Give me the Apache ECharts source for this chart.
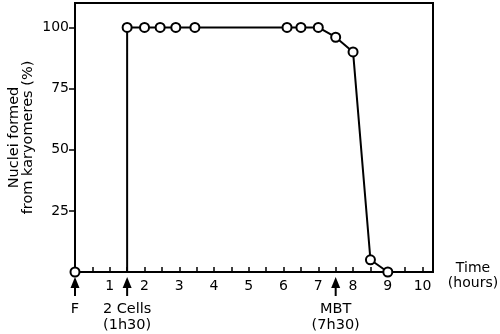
<!DOCTYPE html>
<html>
<head>
<meta charset="utf-8">
<script src="https://cdn.jsdelivr.net/npm/echarts@6/dist/echarts.min.js"></script>
<style>
  html, body { margin: 0; padding: 0; background: #fff; }
</style>
</head>
<body>
<div id="main" style="width: 500px;height:334px;"></div>
<script type="text/javascript">
    // time (hours) and % nuclei formed from karyomeres
    var times = [0, 1.5, 1.5, 2, 2.45, 2.9, 3.45, 6.1, 6.5, 7, 7.5, 8, 8.5, 9];
    var values = [0, 0, 100, 100, 100, 100, 100, 100, 100, 100, 96, 90, 5, 0];
    // index of the corner point that has no circle
    var cornerIdx = 1;

    var yLabels = [25, 50, 75, 100];
    var xLabels = [1, 2, 3, 4, 5, 6, 7, 8, 9, 10];

    // event arrows under the time axis
    var markTimes = [0, 1.5, 7.5];
    var markNames = ['F', '2 Cells\n(1h30)', 'MBT\n(7h30)'];

    var font = 'DejaVu Sans';
    var myChart = echarts.init(document.getElementById('main'));

    var lineData = times.map(function (t, i) {
        var d = { value: [t, values[i]] };
        if (i === cornerIdx) d.symbol = 'none';
        return d;
    });

    var option = {
        animation: false,
        backgroundColor: '#fff',
        grid: {
            left: 75, right: 67, top: 3, bottom: 62,
            outerBoundsMode: 'none', containLabel: false,
            show: true, borderColor: '#000', borderWidth: 2
        },
        xAxis: {
            type: 'value',
            min: 0, max: 10.3, interval: 0.5,
            // empty first line nudges the two-line name down a bit
            name: '{s| }\n{t|Time}\n{t|(hours)}',
            nameLocation: 'end',
            nameGap: 40,
            nameMoveOverlap: false,
            nameTextStyle: {
                fontFamily: font, fontSize: 14, color: '#000', align: 'center',
                rich: {
                    s: { fontSize: 1, lineHeight: 8 },
                    t: { fontFamily: font, fontSize: 14, color: '#000', lineHeight: 15 }
                }
            },
            axisLine: { lineStyle: { color: '#000', width: 2 } },
            axisTick: { inside: true, length: 5, lineStyle: { color: '#000', width: 1.5 } },
            axisLabel: { customValues: xLabels, margin: 7, fontFamily: font, fontSize: 14, color: '#000' },
            splitLine: { show: false }
        },
        yAxis: {
            type: 'value',
            min: 0, max: 110,
            name: 'Nuclei formed\nfrom karyomeres (%)',
            nameLocation: 'middle',
            nameGap: 40,
            nameMoveOverlap: false,
            nameTextStyle: { fontFamily: font, fontSize: 14.5, color: '#000', lineHeight: 14 },
            axisLine: { lineStyle: { color: '#000', width: 2 } },
            axisTick: { customValues: yLabels, length: 6, lineStyle: { color: '#000', width: 1.5 } },
            axisLabel: { customValues: yLabels, margin: 6, fontFamily: font, fontSize: 14, color: '#000' },
            splitLine: { show: false }
        },
        series: [
            {
                type: 'line',
                data: lineData,
                symbol: 'circle',
                symbolSize: 9,
                lineStyle: { color: '#000', width: 2 },
                itemStyle: { color: '#fff', borderColor: '#000', borderWidth: 2 },
                z: 3
            },
            {
                type: 'custom',
                data: markTimes.map(function (t, i) { return [t, i]; }),
                renderItem: function (params, api) {
                    var p = api.coord([api.value(0), 0]);
                    var x = p[0], y = p[1];
                    return {
                        type: 'group',
                        children: [
                            { type: 'polygon', shape: { points: [[x, y + 5], [x - 4.5, y + 16], [x + 4.5, y + 16]] }, style: { fill: '#000' } },
                            { type: 'line', shape: { x1: x, y1: y + 15, x2: x, y2: y + 24 }, style: { stroke: '#000', lineWidth: 2 } },
                            { type: 'text', x: x, y: y + 29, style: { text: markNames[api.value(1)], fontFamily: font, fontSize: 14.5, lineHeight: 16, fill: '#000', align: 'center', verticalAlign: 'top' } }
                        ]
                    };
                },
                silent: true,
                z: 4
            }
        ]
    };
    myChart.setOption(option);
</script>
</body>
</html>
